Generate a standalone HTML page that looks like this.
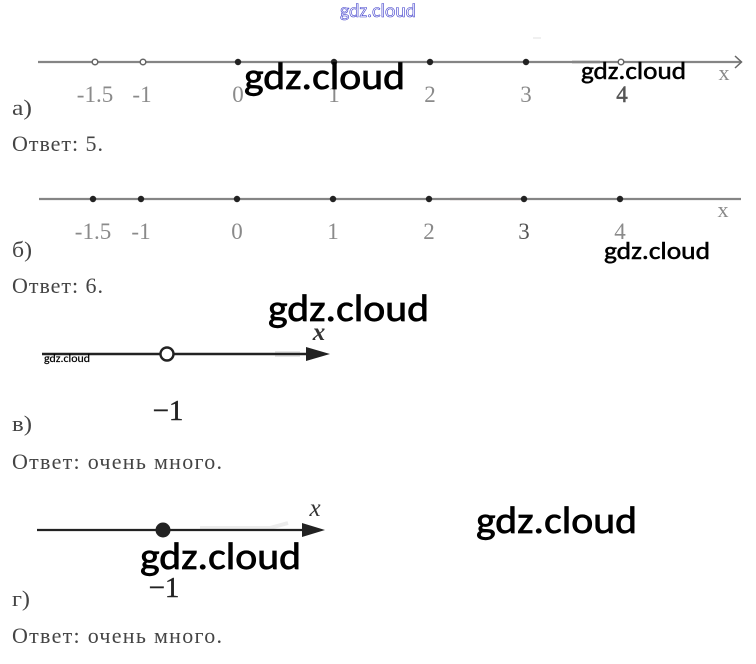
<!DOCTYPE html>
<html lang="ru">
<head>
<meta charset="utf-8">
<style>
html,body{margin:0;padding:0;background:#fff;width:756px;height:664px;overflow:hidden}
svg{display:block}
.n{font-family:"Liberation Serif",serif;font-size:23px;fill:#8a8a8a;text-anchor:middle}
.t{font-family:"Liberation Serif","Noto Serif CJK SC",serif;font-size:22px;fill:#444}
.w{font-family:"Carlito","Liberation Sans",sans-serif;fill:#000;stroke:#000}
.m{font-family:"Liberation Serif",serif;font-size:29px;fill:#222;stroke:#222;stroke-width:.4;text-anchor:middle}
.x{font-family:"Liberation Serif",serif;font-style:italic;font-size:25px;fill:#333;text-anchor:middle}
</style>
</head>
<body>
<svg width="756" height="664" viewBox="0 0 756 664" xmlns="http://www.w3.org/2000/svg">
<rect width="756" height="664" fill="#fff"/>

<text x="340" y="17" font-family="Carlito,'Liberation Sans',sans-serif" font-size="19" textLength="76" lengthAdjust="spacingAndGlyphs" fill="#fff" stroke="#4040cc" stroke-width=".6">gdz.cloud</text>

<!-- smudges -->
<g fill="none">
<line x1="533" y1="38" x2="541" y2="38" stroke-width="2" stroke="#f0f0f0"/>
<line x1="572" y1="62" x2="600" y2="62" stroke-width="4" stroke="#e2e2e2"/>
<line x1="450" y1="199" x2="520" y2="199" stroke-width="3" stroke="#f0e8e8"/>
<line x1="275" y1="354" x2="300" y2="354" stroke-width="6" stroke="#e6e6e6"/>
<path d="M200 528 L270 528 L288 523" stroke-width="4" stroke="#ececec"/>
</g>

<!-- a -->
<line x1="38" y1="62" x2="741" y2="62" stroke="#858585" stroke-width="2.200"/>
<path d="M735 56 L741.500 62 L735 68" fill="none" stroke="#666" stroke-width="1.500"/>
<g fill="#fff" stroke="#666" stroke-width="1.500">
<circle cx="95" cy="62" r="2.800"/><circle cx="143" cy="62" r="2.800"/><circle cx="621" cy="62" r="2.800"/>
</g>
<g fill="#222">
<circle cx="238" cy="62" r="3.200"/><circle cx="334" cy="62" r="3.200"/><circle cx="430" cy="62" r="3.200"/><circle cx="526" cy="62" r="3.200"/>
</g>
<text class="n" x="95" y="102">-1.5</text>
<text class="n" x="142" y="102">-1</text>
<text class="n" x="238" y="102">0</text>
<text class="n" x="334" y="102">1</text>
<text class="n" x="430" y="102">2</text>
<text class="n" x="526" y="102">3</text>
<text class="n" x="622" y="102" style="fill:#555;stroke:#555;stroke-width:.5">4</text>
<text class="n" x="724" y="80" style="font-size:22px">x</text>
<text class="t" x="12" y="115" textLength="20" lengthAdjust="spacingAndGlyphs">а)</text>
<text class="t" x="12" y="151" textLength="91" lengthAdjust="spacing">Ответ: 5.</text>

<!-- b -->
<line x1="39" y1="199" x2="741" y2="199" stroke="#858585" stroke-width="2.200"/>
<g fill="#222">
<circle cx="93" cy="199" r="3.200"/><circle cx="141" cy="199" r="3.200"/><circle cx="237" cy="199" r="3.200"/><circle cx="333" cy="199" r="3.200"/><circle cx="429" cy="199" r="3.200"/><circle cx="524" cy="199" r="3.200"/><circle cx="620" cy="199" r="3.200"/>
</g>
<text class="n" x="93" y="239">-1.5</text>
<text class="n" x="141" y="239">-1</text>
<text class="n" x="237" y="239">0</text>
<text class="n" x="333" y="239">1</text>
<text class="n" x="429" y="239">2</text>
<text class="n" x="524" y="239" style="fill:#555">3</text>
<text class="n" x="620" y="239">4</text>
<text class="n" x="723" y="217" style="font-size:22px">x</text>
<text class="t" x="12" y="257" textLength="20" lengthAdjust="spacingAndGlyphs">б)</text>
<text class="t" x="12" y="293" textLength="91" lengthAdjust="spacing">Ответ: 6.</text>

<!-- v -->
<line x1="42" y1="354" x2="310" y2="354" stroke="#222" stroke-width="2.400"/>
<path d="M306 347 L330 354 L306 361 Z" fill="#222"/>
<circle cx="167" cy="354" r="6.500" fill="#fff" stroke="#222" stroke-width="2.400"/>
<text class="x" x="319" y="340" style="font-weight:bold">x</text>
<text class="m" x="168" y="420">−1</text>
<text class="t" x="12" y="431" textLength="20" lengthAdjust="spacingAndGlyphs">в)</text>
<text class="t" x="12" y="469" textLength="210" lengthAdjust="spacing">Ответ: очень много.</text>

<!-- g -->
<line x1="37" y1="530" x2="305" y2="530" stroke="#222" stroke-width="2.200"/>
<path d="M302 523 L325 530 L302 537 Z" fill="#222"/>
<circle cx="163" cy="530" r="7.500" fill="#222"/>
<text class="x" x="315" y="516">x</text>
<text class="m" x="164" y="597">−1</text>
<text class="t" x="12" y="606" textLength="18" lengthAdjust="spacingAndGlyphs">г)</text>
<text class="t" x="12" y="643" textLength="210" lengthAdjust="spacing">Ответ: очень много.</text>

<!-- watermarks -->
<text class="w" x="244" y="89" font-size="38" stroke-width=".7" textLength="161" lengthAdjust="spacingAndGlyphs">gdz.cloud</text>
<text class="w" x="581" y="79" font-size="25" stroke-width=".5" textLength="105" lengthAdjust="spacingAndGlyphs">gdz.cloud</text>
<text class="w" x="604" y="259" font-size="25" stroke-width=".5" textLength="106" lengthAdjust="spacingAndGlyphs">gdz.cloud</text>
<text class="w" x="268" y="321" font-size="38" stroke-width=".7" textLength="161" lengthAdjust="spacingAndGlyphs">gdz.cloud</text>
<text class="w" x="44" y="362" font-size="11" stroke-width=".2" textLength="46" lengthAdjust="spacingAndGlyphs">gdz.cloud</text>
<text class="w" x="476" y="533" font-size="38" stroke-width=".7" textLength="161" lengthAdjust="spacingAndGlyphs">gdz.cloud</text>
<text class="w" x="140" y="569" font-size="38" stroke-width=".7" textLength="161" lengthAdjust="spacingAndGlyphs">gdz.cloud</text>
</svg>
</body>
</html>
